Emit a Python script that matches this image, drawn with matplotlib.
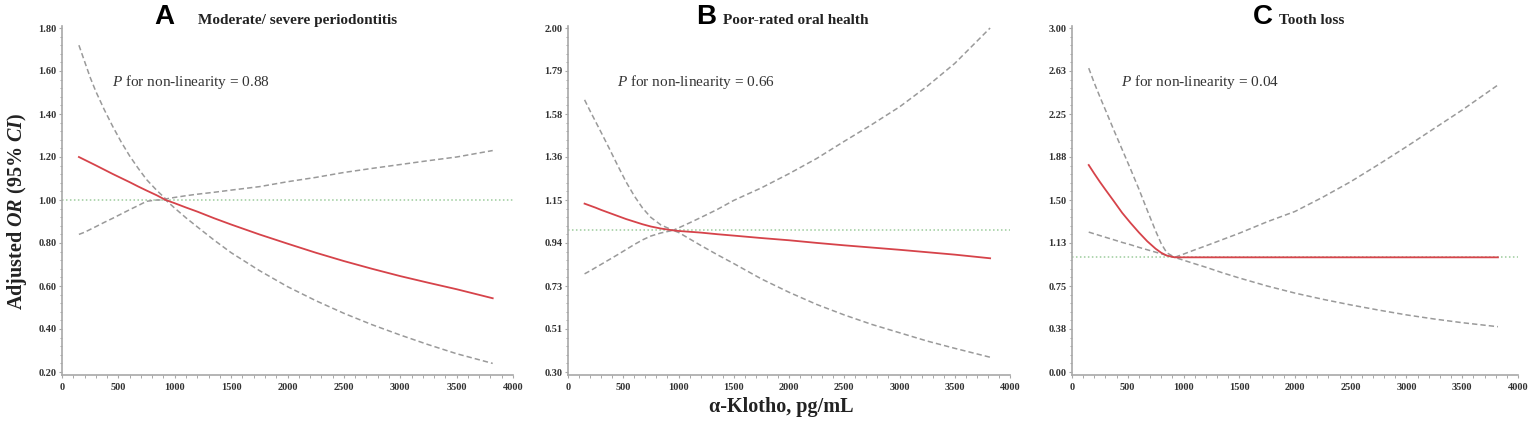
import numpy as np
import matplotlib
matplotlib.use("Agg")
import matplotlib.pyplot as plt
from matplotlib.ticker import MultipleLocator, AutoMinorLocator, FixedLocator, FixedFormatter

plt.rcParams["font.family"] = ["Liberation Serif", "DejaVu Serif"]
plt.rcParams["mathtext.fontset"] = "custom"
plt.rcParams["mathtext.rm"] = "Liberation Serif"
plt.rcParams["mathtext.it"] = "Liberation Serif:italic"
plt.rcParams["mathtext.bf"] = "Liberation Serif:bold"
plt.rcParams["mathtext.bfit"] = "Liberation Serif:italic:bold"

# ---- data ----
# A: moderate/severe periodontitis
x_a = [150, 200, 250, 300, 375, 450, 525, 600, 675, 750, 840, 920, 1000, 1100, 1200, 1350,
       1500, 1750, 2000, 2250, 2500, 2750, 3000, 3250, 3500, 3820]
or_a = [1.20, 1.187, 1.174, 1.161, 1.141, 1.121, 1.102, 1.083, 1.063, 1.044, 1.022, 1.00, 0.985,
        0.965, 0.946, 0.915, 0.886, 0.84, 0.797, 0.755, 0.716, 0.68, 0.646, 0.615, 0.585, 0.543]
up_a = [1.72, 1.645, 1.57, 1.505, 1.42, 1.342, 1.27, 1.205, 1.148, 1.095, 1.045, 1.005, 1.012,
        1.02, 1.027, 1.036, 1.046, 1.062, 1.085, 1.105, 1.128, 1.147, 1.165, 1.183, 1.20, 1.23]
lo_a = [0.84, 0.85, 0.863, 0.876, 0.896, 0.915, 0.935, 0.955, 0.974, 0.994, 1.0, 1.0, 0.962,
        0.917, 0.875, 0.813, 0.755, 0.672, 0.597, 0.532, 0.473, 0.42, 0.372, 0.327, 0.285, 0.24]

# B: poor-rated oral health
x_b = [150, 200, 250, 300, 375, 450, 525, 600, 675, 750, 840, 950, 1000, 1100, 1200, 1350,
       1500, 1750, 2000, 2250, 2500, 2750, 3000, 3250, 3500, 3820]
or_b = [1.132, 1.122, 1.112, 1.101, 1.086, 1.071, 1.056, 1.043, 1.030, 1.019, 1.009, 1.00, 0.997,
        0.993, 0.989, 0.981, 0.974, 0.962, 0.951, 0.938, 0.926, 0.915, 0.904, 0.892, 0.88, 0.862]
up_b = [1.645, 1.59, 1.537, 1.484, 1.403, 1.32, 1.24, 1.17, 1.11, 1.064, 1.027, 1.00, 1.012,
        1.037, 1.063, 1.103, 1.148, 1.21, 1.28, 1.355, 1.44, 1.523, 1.61, 1.712, 1.825, 2.00]
lo_b = [0.785, 0.80, 0.816, 0.832, 0.856, 0.88, 0.905, 0.93, 0.953, 0.972, 0.987, 1.00, 0.99,
        0.958, 0.926, 0.88, 0.836, 0.76, 0.694, 0.634, 0.582, 0.535, 0.494, 0.453, 0.417, 0.373]

# C: tooth loss
x_c = [150, 200, 250, 300, 375, 450, 525, 600, 675, 750, 800, 850, 920, 1000, 1100, 1200, 1350,
       1500, 1750, 2000, 2250, 2500, 2750, 3000, 3250, 3500, 3820]
or_c = [1.805, 1.73, 1.658, 1.59, 1.49, 1.388, 1.30, 1.217, 1.14, 1.075, 1.04, 1.015, 1.00, 1.00,
        1.00, 1.00, 1.00, 1.00, 1.00, 1.00, 1.00, 1.00, 1.00, 1.00, 1.00, 1.00, 1.00]
up_c = [2.65, 2.52, 2.40, 2.285, 2.11, 1.94, 1.77, 1.595, 1.41, 1.23, 1.12, 1.04, 1.00, 1.028,
        1.065, 1.10, 1.155, 1.21, 1.31, 1.40, 1.525, 1.66, 1.81, 1.965, 2.125, 2.285, 2.503]
lo_c = [1.22, 1.205, 1.19, 1.175, 1.153, 1.13, 1.11, 1.087, 1.066, 1.045, 1.031, 1.017, 1.00,
        0.975, 0.944, 0.914, 0.865, 0.82, 0.75, 0.688, 0.634, 0.585, 0.54, 0.498, 0.462, 0.43, 0.395]

yt_a = [0.20, 0.40, 0.60, 0.80, 1.00, 1.20, 1.40, 1.60, 1.80]
yl_a = ["0.20", "0.40", "0.60", "0.80", "1.00", "1.20", "1.40", "1.60", "1.80"]
yt_b = [0.30, 0.5125, 0.725, 0.9375, 1.15, 1.3625, 1.575, 1.7875, 2.00]
yl_b = ["0.30", "0.51", "0.73", "0.94", "1.15", "1.36", "1.58", "1.79", "2.00"]
yt_c = [0.0, 0.375, 0.75, 1.125, 1.5, 1.875, 2.25, 2.625, 3.0]
yl_c = ["0.00", "0.38", "0.75", "1.13", "1.50", "1.88", "2.25", "2.63", "3.00"]
xt = [0, 500, 1000, 1500, 2000, 2500, 3000, 3500, 4000]

letters = ["A", "B", "C"]
titles = ["Moderate/ severe periodontitis", "Poor-rated oral health", "Tooth loss"]
p_text = ["0.88", "0.66", "0.04"]

W, H = 1535, 424
fig = plt.figure(figsize=(W / 100, H / 100), dpi=100)

# pixel layout: (left, right) of each panel, plus title anchor points
panels = [
    dict(l=62, r=513, letter_r=174, title_l=198, x=x_a, est=or_a, up=up_a, lo=lo_a, yt=yt_a, yl=yl_a),
    dict(l=568, r=1010, letter_r=716, title_l=723, x=x_b, est=or_b, up=up_b, lo=lo_b, yt=yt_b, yl=yl_b),
    dict(l=1072, r=1518, letter_r=1273, title_l=1279, x=x_c, est=or_c, up=up_c, lo=lo_c, yt=yt_c, yl=yl_c),
]
top_px, tick_top_px, tick_bot_px, bot_px = 26, 28, 372, 375

spine_col = "#a8a8a8"
for i, p in enumerate(panels):
    ax = fig.add_axes([p["l"] / W, 1 - bot_px / H, (p["r"] - p["l"]) / W, (bot_px - top_px) / H])
    yt = p["yt"]
    per_px = (yt[-1] - yt[0]) / (tick_bot_px - tick_top_px)
    ax.set_ylim(yt[0] - (bot_px - tick_bot_px) * per_px, yt[-1] + (tick_top_px - top_px) * per_px)
    ax.set_xlim(0, 4000)

    ax.axhline(1.0, color="#9ccc9c", lw=1.1, ls=(0, (1, 1.6)), zorder=1)
    ax.plot(p["x"], p["up"], color="#9a9a9a", lw=1.1, ls=(0, (3.5, 2)), zorder=2)
    ax.plot(p["x"], p["lo"], color="#9a9a9a", lw=1.1, ls=(0, (3.5, 2)), zorder=2)
    ax.plot(p["x"], p["est"], color="#d6434a", lw=1.3, zorder=3)

    ax.yaxis.set_major_locator(FixedLocator(yt))
    ax.yaxis.set_major_formatter(FixedFormatter(p["yl"]))
    ax.yaxis.set_minor_locator(AutoMinorLocator(5))
    ax.set_xticks(xt)
    ax.xaxis.set_minor_locator(MultipleLocator(100))

    for s in ["top", "right"]:
        ax.spines[s].set_visible(False)
    for s in ["left", "bottom"]:
        ax.spines[s].set_color(spine_col)
        ax.spines[s].set_linewidth(1.2)
    ax.tick_params(which="major", length=2.5, width=0.8, color=spine_col, labelsize=7.5,
                   labelcolor="#333333", pad=1.5)
    ax.tick_params(which="minor", length=1.8, width=0.7, color=spine_col)
    ax.tick_params(axis="x", which="major", pad=3)
    for lab in ax.get_xticklabels() + ax.get_yticklabels():
        lab.set_fontweight("bold")

    ax.text(0.11, 0.84, "$\\mathit{P}$ for non-linearity = " + p_text[i], transform=ax.transAxes,
            fontsize=11, color="#333333", ha="left", va="center")

    fig.text(p["letter_r"] / W, 1 - 24 / H, letters[i], family=["Liberation Sans", "DejaVu Sans"],
             fontweight="bold", fontsize=20, ha="right", va="baseline")
    fig.text(p["title_l"] / W, 1 - 24 / H, titles[i], fontweight="bold", fontsize=11,
             color="#222222", ha="left", va="baseline")

fig.text(17 / W, 1 - 211 / H, "Adjusted $\\mathbfit{OR}$ (95% $\\mathbfit{CI}$)", rotation=90,
         fontsize=14.5, fontweight="bold", color="#222222", ha="center", va="center")
fig.text(781 / W, 1 - 412 / H, "α-Klotho, pg/mL", fontsize=14.5, fontweight="bold",
         color="#222222", ha="center", va="baseline")

fig.savefig("out.png", dpi=100)
